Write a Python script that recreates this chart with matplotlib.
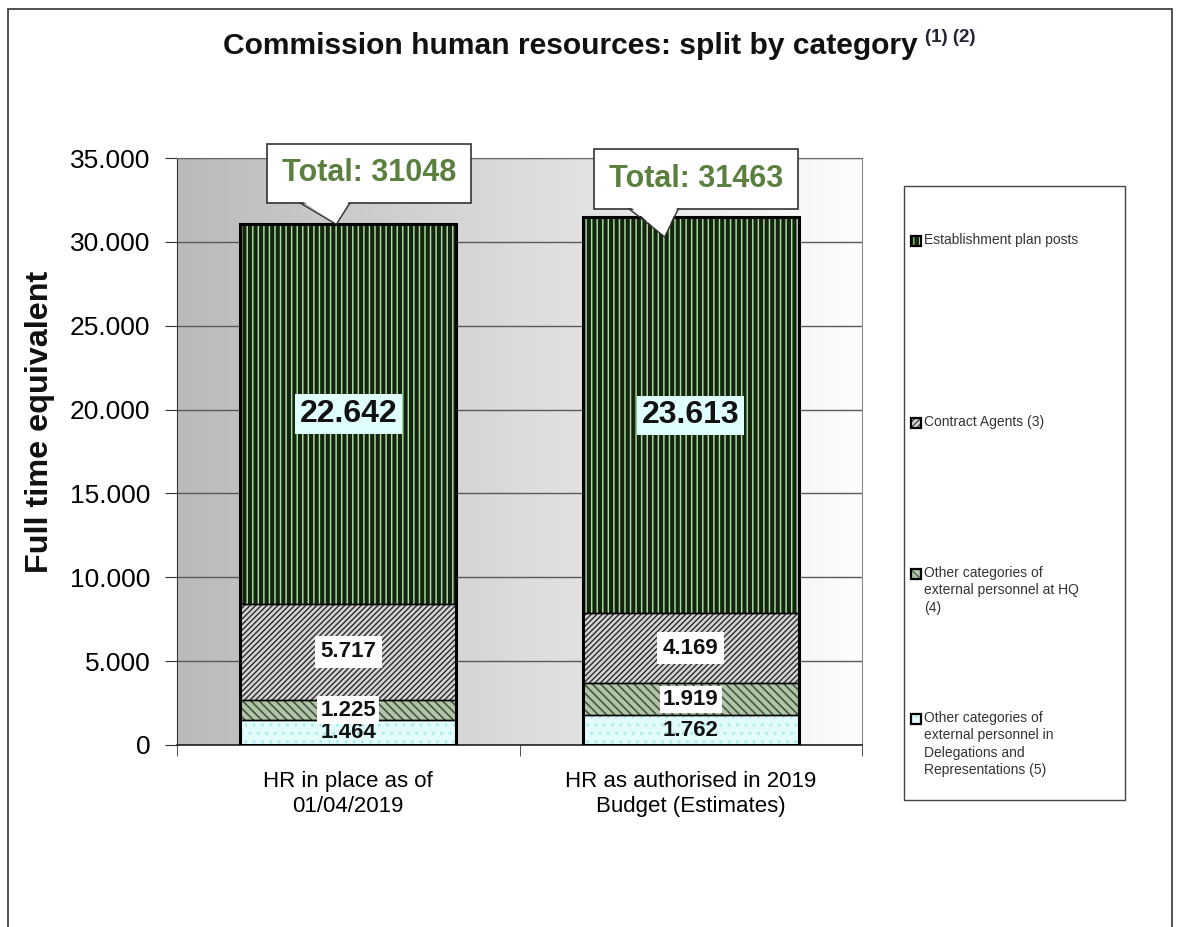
import numpy as np
import matplotlib
matplotlib.use("Agg")
import matplotlib.pyplot as plt
from matplotlib.patches import Rectangle, Polygon
from matplotlib.lines import Line2D
from matplotlib.colors import LinearSegmentedColormap
from matplotlib.ticker import FuncFormatter, FixedLocator
from matplotlib import font_manager

# data
categories = ["HR in place as of\n01/04/2019", "HR as authorised in 2019\nBudget (Estimates)"]
delegations = [1464, 1762]        # Other categories of external personnel in Delegations ... (5)
other_hq = [1225, 1919]           # Other categories of external personnel at HQ (4)
contract_agents = [5717, 4169]    # Contract Agents (3)
establishment = [22642, 23613]    # Establishment plan posts
totals = [31048, 31463]

legend_labels = [
    "Establishment plan posts",
    "Contract Agents (3)",
    "Other categories of\nexternal personnel at HQ\n(4)",
    "Other categories of\nexternal personnel in\nDelegations and\nRepresentations (5)",
]

# segment styles: face, hatch, hatch colour, hatch width
styles = {
    "delegations": ("#e4fbfb", "..", "#a8eeee", 1.0),
    "other_hq": ("#b4c4ac", "\\\\\\\\", "#3c5a3a", 1.2),
    "contract_agents": ("#d4d4d4", "//////", "#2a2a2a", 1.0),
    "establishment": ("#15240f", "|||", "#a9dea2", 1.05),
}

names = {f.name for f in font_manager.fontManager.ttflist}
base_font = "Liberation Sans" if "Liberation Sans" in names else "DejaVu Sans"
narrow_font = "Liberation Sans Narrow" if "Liberation Sans Narrow" in names else base_font
plt.rcParams["font.family"] = [base_font, "DejaVu Sans"]

W, H = 1182, 927
fig = plt.figure(figsize=(W / 100, H / 100), dpi=100)
fig.patch.set_facecolor("white")


def fx(px):
    return px / W


def fy(py):
    return 1 - py / H


ax = fig.add_axes([fx(177), fy(745), fx(862) - fx(177), fy(158) - fy(745)])

x = np.arange(len(categories))
width = 0.63

# gradient background of the plot area
bg = LinearSegmentedColormap.from_list("bg", ["#bababa", "#fdfdfd"])
ax.imshow(np.linspace(0, 1, 256).reshape(1, -1), cmap=bg, extent=[-0.5, 1.5, 0, 35000],
          aspect="auto", zorder=0)


def seg(vals, bottom, key):
    face, hatch, hcol, hlw = styles[key]
    plt.rcParams["hatch.linewidth"] = hlw
    ax.bar(x, vals, width, bottom=bottom, color=face, edgecolor=hcol, hatch=hatch,
           linewidth=0, zorder=2)
    ax.bar(x, vals, width, bottom=bottom, fill=False, edgecolor="black", linewidth=1.0, zorder=3)


b0 = np.zeros(len(x))
b1 = b0 + np.array(delegations)
b2 = b1 + np.array(other_hq)
b3 = b2 + np.array(contract_agents)
seg(delegations, b0, "delegations")
seg(other_hq, b1, "other_hq")
seg(contract_agents, b2, "contract_agents")
seg(establishment, b3, "establishment")
ax.bar(x, totals, width, fill=False, edgecolor="black", linewidth=2.2, zorder=4)


def fmt(v):
    return f"{int(v):,}".replace(",", ".")


# value labels
for i in range(len(x)):
    ax.text(x[i], b0[i] + delegations[i] / 2, fmt(delegations[i]), ha="center", va="center",
            fontsize=16, fontweight="bold", color="#111111", zorder=5)
    ax.text(x[i], b1[i] + other_hq[i] / 2, fmt(other_hq[i]), ha="center", va="center",
            fontsize=16, fontweight="bold", color="#111111", zorder=6,
            bbox=dict(boxstyle="square,pad=0.15", fc="white", ec="none"))
    ax.text(x[i], b2[i] + contract_agents[i] / 2, fmt(contract_agents[i]), ha="center", va="center",
            fontsize=16, fontweight="bold", color="#111111", zorder=6,
            bbox=dict(boxstyle="square,pad=0.25", fc="white", ec="none"))
    ax.text(x[i], b3[i] + establishment[i] / 2, fmt(establishment[i]), ha="center", va="center",
            fontsize=23, fontweight="bold", color="#111111", zorder=6,
            bbox=dict(boxstyle="square,pad=0.15", fc="#e0ffff", ec="none"))

ax.set_xlim(-0.5, 1.5)
ax.set_ylim(0, 35000)
ax.set_yticks(np.arange(0, 35001, 5000))
ax.yaxis.set_major_formatter(FuncFormatter(lambda v, p: fmt(v)))
ax.set_xticks(x)
ax.set_xticklabels(categories, fontsize=16, linespacing=1.2)
ax.xaxis.set_minor_locator(FixedLocator([-0.5, 0.5, 1.5]))
ax.tick_params(axis="x", which="major", length=0, pad=19)
ax.tick_params(axis="x", which="minor", length=8, direction="out", color="#333333")
ax.tick_params(axis="y", which="major", length=9, direction="out", labelsize=19, pad=10,
               color="#333333")
ax.yaxis.grid(True, color="#5a5a5a", lw=1.0, zorder=1)
ax.set_axisbelow(True)
ax.spines["left"].set_color("#333333")
ax.spines["bottom"].set_color("#222222")
ax.spines["bottom"].set_linewidth(1.2)
ax.spines["right"].set_color("#8a8a8a")
ax.spines["top"].set_color("#6a6a6a")

# total callouts: boxed text plus a pointer down to the bar top
box_dx = [0.061, 0.016]
box_y = [34080, 33750]
tip_dx = [-0.035, -0.076]
tip_dy = [0, -1170]
callouts = []
for i, tot in enumerate(totals):
    t = ax.text(x[i] + box_dx[i], box_y[i], f"Total: {tot}", ha="center", va="center",
                fontsize=22, fontweight="bold", color="#5b7f3e", zorder=8, clip_on=False,
                bbox=dict(boxstyle="square,pad=0.48", fc="white", ec="#333333", lw=1.2))
    callouts.append(t)

fig.canvas.draw()
r = fig.canvas.get_renderer()
inv = ax.transData.inverted()
for i, t in enumerate(callouts):
    ext = t.get_bbox_patch().get_window_extent(r)
    yb = inv.transform((0, ext.y0))[1]
    tip = (x[i] + tip_dx[i], totals[i] + tip_dy[i])
    bl, br = tip[0] - 0.105, tip[0] + 0.04
    ax.add_patch(Polygon([(bl, yb + 200), tip, (br, yb + 200)], closed=True, fc="white",
                         ec="none", zorder=9, clip_on=False))
    ax.add_line(Line2D([bl, tip[0], br], [yb, tip[1], yb], color="#333333", lw=1.0,
                       zorder=10, clip_on=False))

fig.text(fx(40), fy(422), "Full time equivalent", rotation=90, ha="center", va="center",
         fontsize=23.3, fontweight="bold", color="#111111")

# title, scaled to the width seen in the reference
title = fig.text(fx(223), fy(54), "Commission human resources: split by category",
                 ha="left", va="baseline", fontsize=20, fontweight="bold",
                 family=[narrow_font, "DejaVu Sans"], color="#111111")
fig.canvas.draw()
tw = title.get_window_extent(r).width
title.set_fontsize(20 * 694 / tw)
fig.canvas.draw()
te = title.get_window_extent(r)
fig.text((te.x1 + 7) / W, fy(37), "(1) (2)", ha="left", va="center", fontsize=13.5,
         fontweight="bold", family=[narrow_font, "DejaVu Sans"], color="#222233")

# legend box drawn by hand to keep the reference spacing
fig.add_artist(Rectangle((fx(904), fy(800)), fx(1125) - fx(904), fy(186) - fy(800),
                         transform=fig.transFigure, fill=False, ec="#444444", lw=1.0))
legend_keys = ["establishment", "contract_agents", "other_hq", "delegations"]
legend_y = [241, 423, 574, 719]
for key, lab, ly in zip(legend_keys, legend_labels, legend_y):
    face, hatch, hcol, hlw = styles[key]
    plt.rcParams["hatch.linewidth"] = 0.8
    fig.add_artist(Rectangle((fx(911), fy(ly + 5)), fx(10), 10 / H, transform=fig.transFigure,
                             fc=face, ec=hcol, hatch=hatch, lw=0))
    fig.add_artist(Rectangle((fx(911), fy(ly + 5)), fx(10), 10 / H, transform=fig.transFigure,
                             fill=False, ec="black", lw=1.6))
    fig.text(fx(924), fy(ly - 8), lab, ha="left", va="top", fontsize=10, color="#333333",
             linespacing=1.3)

# outer frame
fig.add_artist(Rectangle((fx(8), -0.05), fx(1172) - fx(8), fy(9) + 0.05,
                         transform=fig.transFigure, fill=False, ec="#333333", lw=1.2))

fig.savefig("out.png", dpi=100)
